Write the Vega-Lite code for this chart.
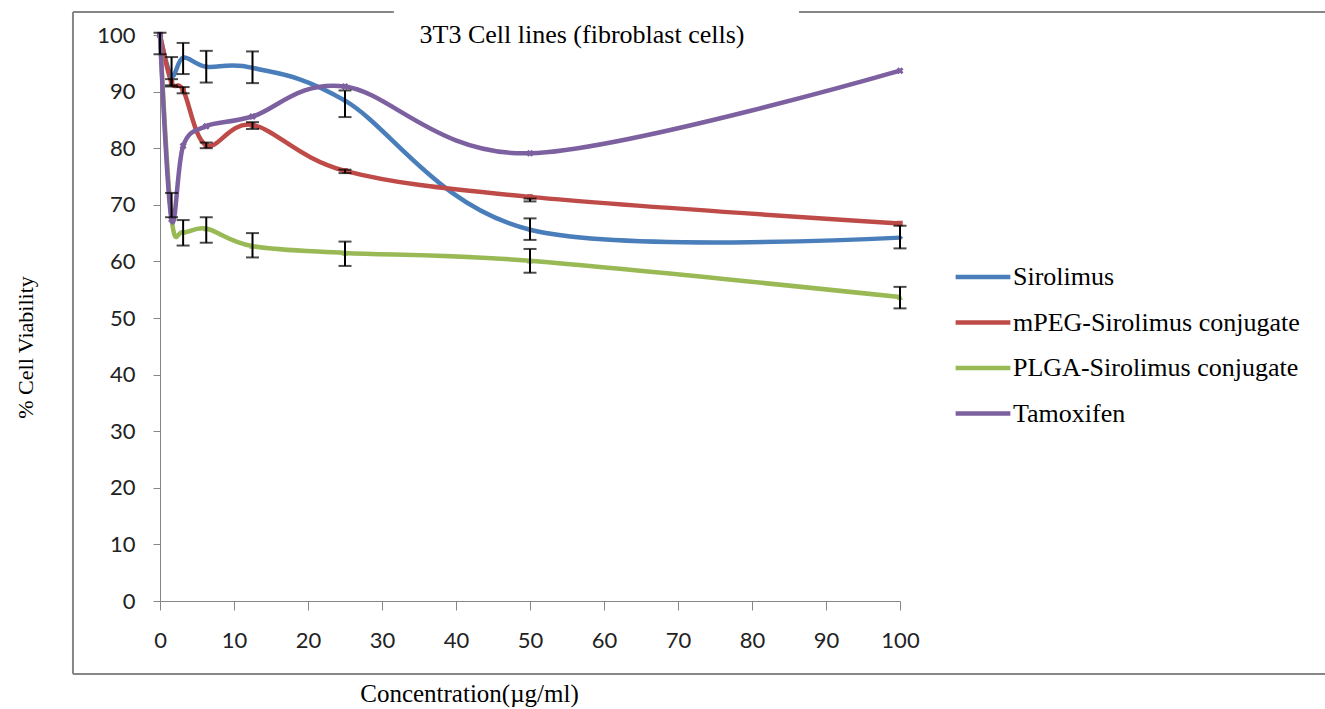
{
  "$schema": "https://vega.github.io/schema/vega-lite/v6.json",
  "width": 740,
  "height": 566,
  "autosize": {"type": "none"},
  "padding": {"left": 160, "top": 35, "right": 425, "bottom": 108},
  "background": "white",
  "config": {"view": {"stroke": null}, "font": "Liberation Serif"},
  "title": {
    "text": "3T3 Cell lines (fibroblast cells)",
    "font": "Liberation Serif",
    "fontSize": 26,
    "fontWeight": "normal",
    "color": "black",
    "anchor": "middle",
    "frame": "group",
    "dx": 52,
    "offset": -37
  },
  "datasets": {
    "curves": [
      {"series": "Sirolimus", "conc": 0, "viability": 100},
      {"series": "Sirolimus", "conc": 1.5625, "viability": 92.8},
      {"series": "Sirolimus", "conc": 3.125, "viability": 96.0},
      {"series": "Sirolimus", "conc": 6.25, "viability": 94.4},
      {"series": "Sirolimus", "conc": 12.5, "viability": 94.2},
      {"series": "Sirolimus", "conc": 25, "viability": 88.4},
      {"series": "Sirolimus", "conc": 50, "viability": 65.6},
      {"series": "Sirolimus", "conc": 100, "viability": 64.2},
      {"series": "mPEG-Sirolimus conjugate", "conc": 0, "viability": 100},
      {"series": "mPEG-Sirolimus conjugate", "conc": 1.5625, "viability": 91.6},
      {"series": "mPEG-Sirolimus conjugate", "conc": 3.125, "viability": 90.3},
      {"series": "mPEG-Sirolimus conjugate", "conc": 6.25, "viability": 80.5},
      {"series": "mPEG-Sirolimus conjugate", "conc": 12.5, "viability": 84.1},
      {"series": "mPEG-Sirolimus conjugate", "conc": 25, "viability": 76.0},
      {"series": "mPEG-Sirolimus conjugate", "conc": 50, "viability": 71.4},
      {"series": "mPEG-Sirolimus conjugate", "conc": 100, "viability": 66.7},
      {"series": "PLGA-Sirolimus conjugate", "conc": 0, "viability": 100},
      {"series": "PLGA-Sirolimus conjugate", "conc": 1.5625, "viability": 67.6},
      {"series": "PLGA-Sirolimus conjugate", "conc": 3.125, "viability": 65.2},
      {"series": "PLGA-Sirolimus conjugate", "conc": 6.25, "viability": 65.8},
      {"series": "PLGA-Sirolimus conjugate", "conc": 12.5, "viability": 62.7},
      {"series": "PLGA-Sirolimus conjugate", "conc": 25, "viability": 61.5},
      {"series": "PLGA-Sirolimus conjugate", "conc": 50, "viability": 60.1},
      {"series": "PLGA-Sirolimus conjugate", "conc": 100, "viability": 53.7},
      {"series": "Tamoxifen", "conc": 0, "viability": 100},
      {"series": "Tamoxifen", "conc": 1.5625, "viability": 67.4},
      {"series": "Tamoxifen", "conc": 3.125, "viability": 80.4},
      {"series": "Tamoxifen", "conc": 6.25, "viability": 83.9},
      {"series": "Tamoxifen", "conc": 12.5, "viability": 85.6},
      {"series": "Tamoxifen", "conc": 25, "viability": 90.9},
      {"series": "Tamoxifen", "conc": 50, "viability": 79.1},
      {"series": "Tamoxifen", "conc": 100, "viability": 93.7}
    ],
    "errors": [
      {"series": "Sirolimus", "conc": 0, "lo": 96.6, "hi": 100.4},
      {"series": "Sirolimus", "conc": 1.5625, "lo": 90.9, "hi": 96.1},
      {"series": "Sirolimus", "conc": 3.125, "lo": 93.1, "hi": 98.6},
      {"series": "Sirolimus", "conc": 6.25, "lo": 91.6, "hi": 97.2},
      {"series": "Sirolimus", "conc": 12.5, "lo": 91.5, "hi": 97.1},
      {"series": "Sirolimus", "conc": 25, "lo": 85.5, "hi": 90.2},
      {"series": "Sirolimus", "conc": 50, "lo": 63.8, "hi": 67.6},
      {"series": "Sirolimus", "conc": 100, "lo": 62.3, "hi": 66.3},
      {"series": "mPEG-Sirolimus conjugate", "conc": 1.5625, "lo": 91.1, "hi": 92.2},
      {"series": "mPEG-Sirolimus conjugate", "conc": 3.125, "lo": 89.7, "hi": 90.8},
      {"series": "mPEG-Sirolimus conjugate", "conc": 6.25, "lo": 80.0, "hi": 81.0},
      {"series": "mPEG-Sirolimus conjugate", "conc": 12.5, "lo": 83.4, "hi": 84.6},
      {"series": "mPEG-Sirolimus conjugate", "conc": 25, "lo": 75.6, "hi": 76.2},
      {"series": "mPEG-Sirolimus conjugate", "conc": 50, "lo": 70.6, "hi": 71.1},
      {"series": "PLGA-Sirolimus conjugate", "conc": 1.5625, "lo": 67.8, "hi": 72.1},
      {"series": "PLGA-Sirolimus conjugate", "conc": 3.125, "lo": 62.8, "hi": 67.3},
      {"series": "PLGA-Sirolimus conjugate", "conc": 6.25, "lo": 63.3, "hi": 67.8},
      {"series": "PLGA-Sirolimus conjugate", "conc": 12.5, "lo": 60.7, "hi": 65.0},
      {"series": "PLGA-Sirolimus conjugate", "conc": 25, "lo": 59.2, "hi": 63.5},
      {"series": "PLGA-Sirolimus conjugate", "conc": 50, "lo": 58.0, "hi": 62.2},
      {"series": "PLGA-Sirolimus conjugate", "conc": 100, "lo": 51.7, "hi": 55.5}
    ]
  },
  "layer": [
    {
      "data": {"values": [{}]},
      "mark": {"type": "rule", "color": "#868686", "strokeWidth": 2},
      "encoding": {
        "x": {"datum": -11.76, "scale": {"domain": [0, 100], "nice": false}},
        "y": {"datum": -12.9, "scale": {"domain": [0, 100], "nice": false}},
        "y2": {"datum": 104.06}
      }
    },
    {
      "data": {"values": [{}]},
      "mark": {"type": "rule", "color": "#868686", "strokeWidth": 2},
      "encoding": {
        "x": {"datum": -11.76, "scale": {"domain": [0, 100], "nice": false}},
        "x2": {"datum": 160},
        "y": {"datum": -12.9, "scale": {"domain": [0, 100], "nice": false}}
      }
    },
    {
      "data": {"values": [{}]},
      "mark": {"type": "rule", "color": "#868686", "strokeWidth": 2},
      "encoding": {
        "x": {"datum": -11.76, "scale": {"domain": [0, 100], "nice": false}},
        "x2": {"datum": 31.6},
        "y": {"datum": 104.06, "scale": {"domain": [0, 100], "nice": false}}
      }
    },
    {
      "data": {"values": [{}]},
      "mark": {"type": "rule", "color": "#868686", "strokeWidth": 2},
      "encoding": {
        "x": {"datum": 86.35, "scale": {"domain": [0, 100], "nice": false}},
        "x2": {"datum": 160},
        "y": {"datum": 104.06, "scale": {"domain": [0, 100], "nice": false}}
      }
    },
    {
      "data": {"name": "curves"},
      "mark": {"type": "line", "interpolate": "cardinal", "strokeWidth": 4.5},
      "encoding": {
        "x": {
          "field": "conc",
          "type": "quantitative",
          "title": "Concentration(µg/ml)",
          "scale": {"domain": [0, 100], "nice": false},
          "axis": {
            "title": "Concentration(µg/ml)",
            "values": [0, 10, 20, 30, 40, 50, 60, 70, 80, 90, 100],
            "grid": false,
            "labelFlush": false,
            "domainColor": "#868686",
            "tickColor": "#868686",
            "tickSize": 9,
            "labelFont": "Lato",
            "labelFontSize": 22,
            "labelColor": "#222222",
            "labelPadding": 20,
            "titleFont": "Liberation Serif",
            "titleFontSize": 25,
            "titleFontWeight": "normal",
            "titleColor": "black",
            "titleX": 309,
            "titleY": 92,
            "titleAlign": "center",
            "titleBaseline": "middle"
          }
        },
        "y": {
          "field": "viability",
          "type": "quantitative",
          "title": "% Cell Viability",
          "scale": {"domain": [0, 100], "nice": false},
          "axis": {
            "title": "% Cell Viability",
            "values": [0, 10, 20, 30, 40, 50, 60, 70, 80, 90, 100],
            "grid": false,
            "labelFlush": false,
            "domainColor": "#868686",
            "tickColor": "#868686",
            "tickSize": 7,
            "labelFont": "Lato",
            "labelFontSize": 22,
            "labelColor": "#222222",
            "labelPadding": 18,
            "titleFont": "Liberation Serif",
            "titleFontSize": 22,
            "titleFontWeight": "normal",
            "titleColor": "black",
            "titleX": -135,
            "titleY": 312,
            "titleAlign": "center",
            "titleBaseline": "middle"
          }
        },
        "color": {
          "field": "series",
          "type": "nominal",
          "scale": {
            "domain": ["Sirolimus", "mPEG-Sirolimus conjugate", "PLGA-Sirolimus conjugate", "Tamoxifen"],
            "range": ["#4A7EBB", "#BE4B48", "#98B954", "#7D60A0"]
          },
          "legend": {
            "orient": "none",
            "legendX": 793,
            "legendY": 212,
            "title": null,
            "symbolType": "stroke",
            "symbolSize": 3000,
            "symbolStrokeWidth": 4.5,
            "labelFont": "Liberation Serif",
            "labelFontSize": 26,
            "labelColor": "black",
            "labelLimit": 400,
            "rowPadding": 2.5,
            "labelOffset": 0,
            "padding": 0
          }
        }
      }
    },
    {
      "data": {"name": "curves"},
      "transform": [{"filter": "datum.series === 'Sirolimus'"}],
      "mark": {"type": "point", "filled": true, "size": 40, "shape": "diamond", "color": "#4A7EBB", "opacity": 1},
      "encoding": {
        "x": {"field": "conc", "type": "quantitative", "title": "Concentration(µg/ml)", "scale": {"domain": [0, 100], "nice": false}},
        "y": {"field": "viability", "type": "quantitative", "title": "% Cell Viability", "scale": {"domain": [0, 100], "nice": false}}
      }
    },
    {
      "data": {"name": "curves"},
      "transform": [{"filter": "datum.series === 'mPEG-Sirolimus conjugate'"}],
      "mark": {"type": "point", "filled": true, "size": 30, "shape": "square", "color": "#BE4B48", "opacity": 1},
      "encoding": {
        "x": {"field": "conc", "type": "quantitative", "title": "Concentration(µg/ml)", "scale": {"domain": [0, 100], "nice": false}},
        "y": {"field": "viability", "type": "quantitative", "title": "% Cell Viability", "scale": {"domain": [0, 100], "nice": false}}
      }
    },
    {
      "data": {"name": "curves"},
      "transform": [{"filter": "datum.series === 'PLGA-Sirolimus conjugate'"}],
      "mark": {"type": "point", "filled": true, "size": 40, "shape": "triangle-up", "color": "#98B954", "opacity": 1},
      "encoding": {
        "x": {"field": "conc", "type": "quantitative", "title": "Concentration(µg/ml)", "scale": {"domain": [0, 100], "nice": false}},
        "y": {"field": "viability", "type": "quantitative", "title": "% Cell Viability", "scale": {"domain": [0, 100], "nice": false}}
      }
    },
    {
      "data": {"name": "curves"},
      "transform": [{"filter": "datum.series === 'Tamoxifen'"}],
      "mark": {"type": "point", "filled": true, "size": 50, "shape": "cross", "angle": 45, "color": "#7D60A0", "opacity": 1},
      "encoding": {
        "x": {"field": "conc", "type": "quantitative", "title": "Concentration(µg/ml)", "scale": {"domain": [0, 100], "nice": false}},
        "y": {"field": "viability", "type": "quantitative", "title": "% Cell Viability", "scale": {"domain": [0, 100], "nice": false}}
      }
    },
    {
      "data": {"name": "errors"},
      "mark": {
        "type": "errorbar",
        "ticks": {"size": 13, "color": "black", "thickness": 2},
        "rule": {"color": "black", "strokeWidth": 2}
      },
      "encoding": {
        "x": {"field": "conc", "type": "quantitative", "title": "Concentration(µg/ml)", "scale": {"domain": [0, 100], "nice": false}},
        "y": {"field": "lo", "type": "quantitative", "title": "% Cell Viability", "scale": {"domain": [0, 100], "nice": false}},
        "y2": {"field": "hi"}
      }
    }
  ]
}
